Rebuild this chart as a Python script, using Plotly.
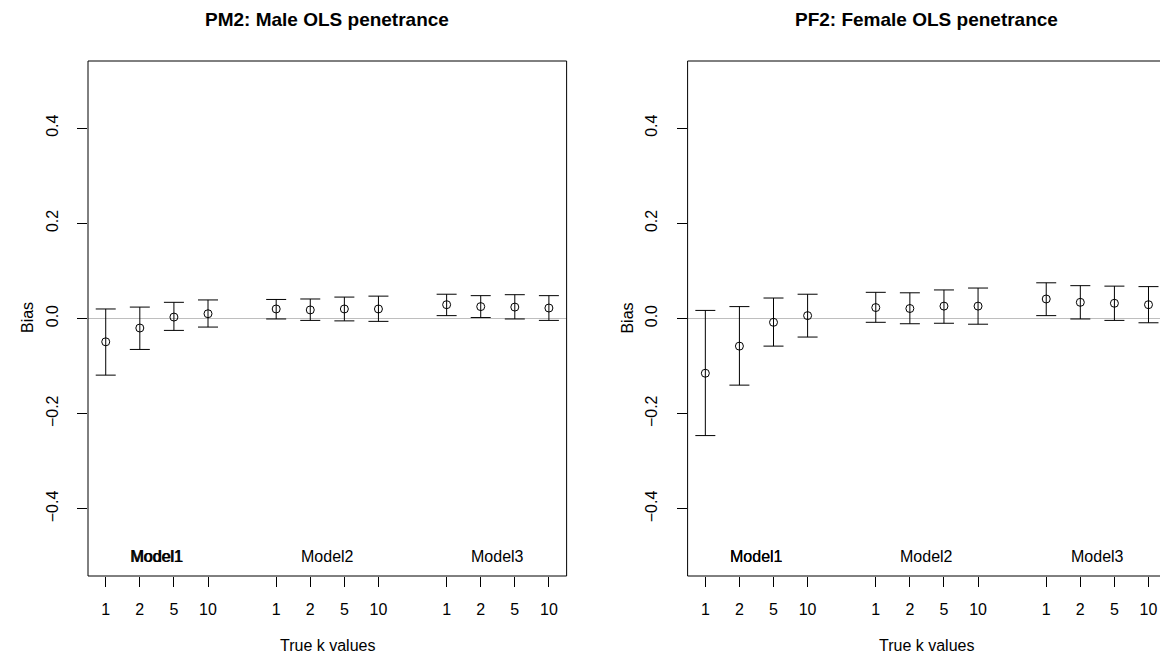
import plotly.graph_objects as go

# Simulation summary: bias of the OLS penetrance estimate with interval limits
k_labels = ["1", "2", "5", "10"]
models = ["Model1", "Model2", "Model3"]

male_bias = [-0.049, -0.020, 0.003, 0.010, 0.020, 0.018, 0.020, 0.020, 0.029, 0.025, 0.024, 0.022]
male_upper = [0.020, 0.024, 0.034, 0.039, 0.040, 0.041, 0.045, 0.047, 0.051, 0.048, 0.050, 0.048]
male_lower = [-0.119, -0.065, -0.025, -0.018, -0.001, -0.004, -0.005, -0.006, 0.006, 0.002, -0.001, -0.004]

female_bias = [-0.115, -0.058, -0.008, 0.006, 0.023, 0.021, 0.026, 0.026, 0.041, 0.034, 0.032, 0.029]
female_upper = [0.017, 0.025, 0.043, 0.051, 0.055, 0.054, 0.060, 0.064, 0.075, 0.069, 0.068, 0.067]
female_lower = [-0.246, -0.140, -0.058, -0.039, -0.008, -0.011, -0.010, -0.012, 0.006, -0.001, -0.004, -0.009]

y_ticks = [-0.4, -0.2, 0.0, 0.2, 0.4]
y_ticktext = ["\u22120.4", "\u22120.2", "0.0", "0.2", "0.4"]

panels = [
    ("PM2: Male OLS penetrance", male_bias, male_upper, male_lower),
    ("PF2: Female OLS penetrance", female_bias, female_upper, female_lower),
]

# x positions: four k values per model, with a gap between model groups
positions = [g * 5 + i + 1 for g in range(len(models)) for i in range(len(k_labels))]
group_centres = [g * 5 + (len(k_labels) + 1) / 2 for g in range(len(models))]
x_ticktext = k_labels * len(models)

W, H = 1160, 658
FONT = "Liberation Sans, Arial, Helvetica, sans-serif"
unit = 34.09                      # pixels per x unit
plot_top, plot_bottom = 61, 576
left_px = [88.0, 687.6]
xlo = 0.48
xhi_full = 14.52

fig = go.Figure()
shapes = []
annotations = []

for p, (title, bias, upper, lower) in enumerate(panels):
    xa = "x" if p == 0 else "x2"
    ya = "y" if p == 0 else "y2"
    x0 = left_px[p]
    x1_full = x0 + (xhi_full - xlo) * unit
    x1 = min(x1_full, W)
    xhi = xlo + (x1 - x0) / unit

    fig.add_trace(go.Scatter(
        x=positions, y=bias, mode="markers",
        xaxis=xa, yaxis=ya, showlegend=False,
        marker=dict(symbol="circle-open", size=8, color="black", line=dict(width=1, color="black")),
        error_y=dict(type="data", symmetric=False,
                     array=[u - b for u, b in zip(upper, bias)],
                     arrayminus=[b - l for b, l in zip(bias, lower)],
                     color="black", thickness=1, width=10),
    ))

    axis_common = dict(showgrid=False, zeroline=False, showline=False,
                       ticks="outside", ticklen=10, tickwidth=1, tickcolor="black",
                       tickfont=dict(family=FONT, size=16, color="black"))
    fig.layout[("xaxis" if p == 0 else "xaxis2")] = dict(
        domain=[x0 / W, x1 / W], range=[xlo, xhi], anchor=ya,
        tickmode="array", tickvals=positions, ticktext=x_ticktext,
        ticklabelstandoff=9, **axis_common)
    fig.layout[("yaxis" if p == 0 else "yaxis2")] = dict(
        domain=[1 - plot_bottom / H, 1 - plot_top / H], range=[-0.541, 0.541], anchor=xa,
        tickmode="array", tickvals=y_ticks, ticktext=y_ticktext, tickangle=-90,
        ticklabelstandoff=13, **axis_common)

    xd = xa + " domain"
    yd = ya + " domain"
    # reference line at zero bias
    shapes.append(dict(type="line", xref=xd, yref=ya, x0=0, x1=1, y0=0, y1=0,
                       line=dict(color="#bebebe", width=1), layer="below"))
    # plot frame
    shapes.append(dict(type="rect", xref=xd, yref=yd, x0=0, x1=(x1_full - x0) / (x1 - x0), y0=0, y1=1,
                       line=dict(color="black", width=1), layer="above"))

    # model group labels inside the frame (the first one is drawn over itself, so it reads heavier)
    for gi, (name, c) in enumerate(zip(models, group_centres)):
        shifts = [0, 0.3] if gi == 0 else [0]
        for s in shifts:
            annotations.append(dict(x=c, y=-0.5, xref=xa, yref=ya, text=name, showarrow=False,
                                    xanchor="center", yanchor="middle", xshift=s,
                                    font=dict(family=FONT, size=16, color="black")))

    centre_px = (x0 + x1_full) / 2
    annotations.append(dict(x=centre_px / W, y=1 - 20 / H, xref="paper", yref="paper",
                            text="<b>" + title + "</b>", showarrow=False,
                            xanchor="center", yanchor="middle",
                            font=dict(family=FONT, size=19, color="black")))
    annotations.append(dict(x=centre_px / W, y=1 - 645 / H, xref="paper", yref="paper",
                            text="True k values", showarrow=False,
                            xanchor="center", yanchor="middle",
                            font=dict(family=FONT, size=16, color="black")))
    annotations.append(dict(x=(x0 - 61) / W, y=1 - 318 / H, xref="paper", yref="paper",
                            text="Bias", showarrow=False, textangle=-90,
                            xanchor="center", yanchor="middle",
                            font=dict(family=FONT, size=16, color="black")))

fig.update_layout(
    width=W, height=H, autosize=False,
    margin=dict(l=0, r=0, t=0, b=0, pad=0),
    paper_bgcolor="white", plot_bgcolor="white",
    shapes=shapes, annotations=annotations,
)

fig.write_html("out.html")
